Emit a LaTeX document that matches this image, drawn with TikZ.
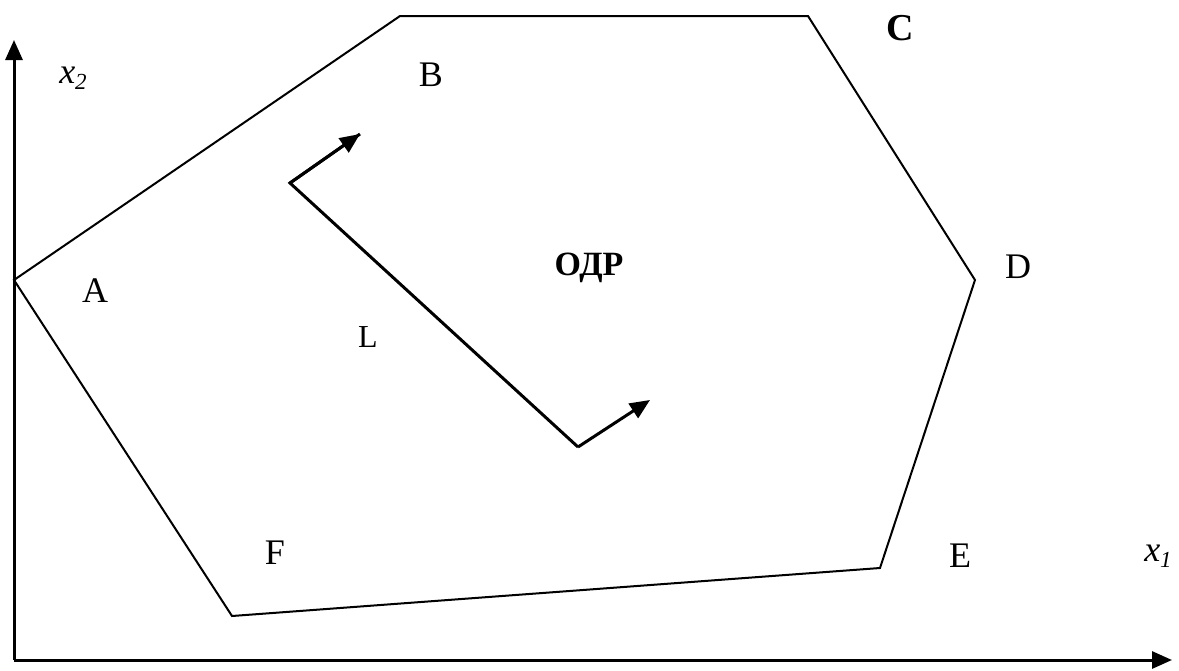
\documentclass[tikz,border=0pt]{standalone}
\usepackage{fontspec}
\setmainfont{Liberation Serif}
\usetikzlibrary{arrows.meta}
\begin{document}
\begin{tikzpicture}[x=1pt,y=-1pt,
  lbl/.style={inner sep=0pt,font=\fontsize{36}{36}\selectfont},
  axis/.style={line width=3pt,-{Triangle[length=20pt,width=17pt]}},
  edge/.style={line width=2pt,line join=miter},
  lline/.style={line width=3pt},
  larrow/.style={line width=3pt,-{Triangle[length=20pt,width=17pt]}}]
\useasboundingbox (0,0) rectangle (1179,670);
% axes
\coordinate (O) at (14,660);
\coordinate (Y) at (14,40);
\coordinate (X) at (1172,660);
\draw[axis] (O) -- (Y);
\draw[axis] (O) -- (X);
% polygon
\coordinate (pA) at (14,280);
\coordinate (pB) at (400,16);
\coordinate (pC) at (808,16);
\coordinate (pD) at (975,280);
\coordinate (pE) at (880,568);
\coordinate (pF) at (232,616);
\draw[edge] (pA) -- (pB) -- (pC) -- (pD) -- (pE) -- (pF) -- cycle;
% line L with normals
\coordinate (L1) at (290,183);
\coordinate (L2) at (578,447);
\coordinate (N1) at (360,134);
\coordinate (N2) at (650,400);
\draw[lline,line join=miter] (N1) -- (L1) -- (L2);
\draw[larrow] (L1) -- (N1);
\draw[larrow] (L2) -- (N2);
% labels
\node[lbl] (tx2) at (73,78) {\itshape x\lower6pt\hbox{\fontsize{23}{23}\selectfont 2}};
\node[lbl] (tB) at (431,75) {B};
\node[lbl,font=\fontsize{38}{38}\selectfont\bfseries] (tC) at (900,28) {C};
\node[lbl] (tD) at (1018,267) {D};
\node[lbl] (tA) at (95,291) {A};
\node[lbl,font=\fontsize{32}{32}\selectfont] (tL) at (368,337) {L};
\node[lbl,font=\fontsize{34}{34}\selectfont\bfseries] (tO) at (589,268) {ОДР};
\node[lbl] (tF) at (275,553) {F};
\node[lbl] (tE) at (960,556) {E};
\node[lbl] (tx1) at (1158,556) {\itshape x\lower6pt\hbox{\fontsize{23}{23}\selectfont 1}};
\end{tikzpicture}
\end{document}
